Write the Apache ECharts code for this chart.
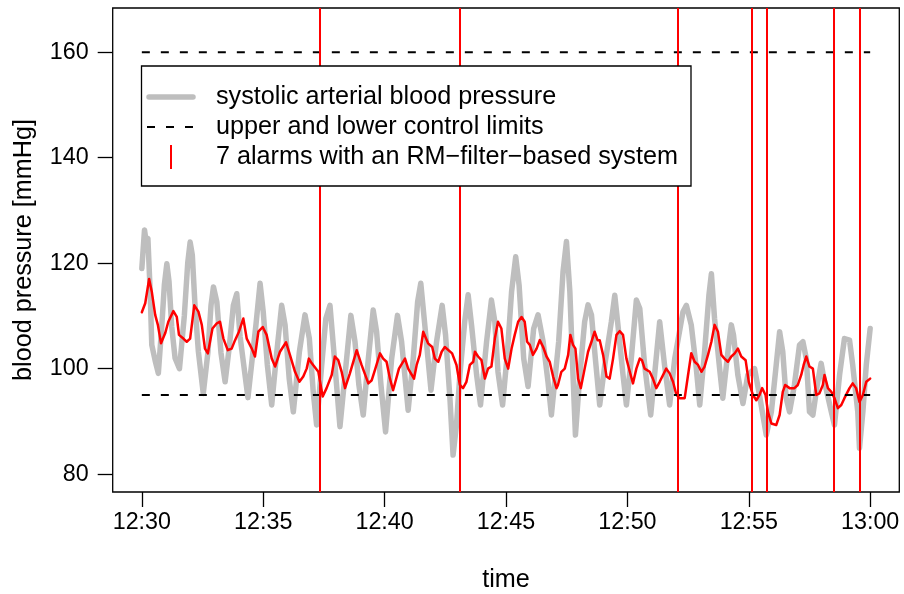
<!DOCTYPE html>
<html>
<head>
<meta charset="utf-8">
<script src="https://cdn.jsdelivr.net/npm/echarts@6/dist/echarts.min.js"></script>
<style>
  html, body { margin: 0; padding: 0; background: #fff; }
  #chart { width: 904px; height: 594px; }
</style>
</head>
<body>
<div id="chart"></div>
<script>
// Time axis: minutes after 12:30
const timeTicks = [0, 5, 10, 15, 20, 25, 30];
const timeLabels = ['12:30', '12:35', '12:40', '12:45', '12:50', '12:55', '13:00'];
const pressureTicks = [80, 100, 120, 140, 160];

// Systolic arterial blood pressure (mmHg)
const systolicMin = [0.00,0.11,0.18,0.25,0.34,0.41,0.55,0.68,0.82,0.93,
  1.03,1.12,1.23,1.37,1.55,1.75,1.89,1.99,2.08,2.19,
  2.33,2.53,2.72,2.85,2.95,3.09,3.26,3.43,3.60,3.77,
  3.91,4.05,4.37,4.70,4.87,5.00,5.17,5.35,5.56,5.76,
  5.90,6.07,6.24,6.49,6.72,6.90,7.06,7.20,7.41,7.58,
  7.75,7.91,8.16,8.41,8.61,8.78,8.94,9.12,9.33,9.53,
  9.67,9.85,10.04,10.29,10.53,10.70,10.97,11.18,11.36,11.49,
  11.63,11.91,12.14,12.37,12.51,12.69,12.82,12.96,13.10,13.30,
  13.44,13.58,13.79,13.95,14.20,14.40,14.54,14.67,14.86,15.05,
  15.23,15.40,15.54,15.73,15.91,16.14,16.32,16.53,16.73,16.87,
  17.17,17.35,17.49,17.63,17.76,17.86,18.04,18.24,18.38,18.52,
  18.68,18.86,19.07,19.34,19.48,19.61,19.82,19.96,20.16,20.37,
  20.51,20.71,20.96,21.12,21.33,21.53,21.74,21.95,22.29,22.43,
  22.63,22.84,22.98,23.18,23.36,23.46,23.59,23.80,23.93,24.14,
  24.28,24.37,24.55,24.76,24.96,25.24,25.44,25.72,25.93,26.13,
  26.27,26.40,26.54,26.68,26.88,27.09,27.23,27.37,27.50,27.64,
  27.82,27.98,28.12,28.40,28.53,28.74,28.94,29.15,29.28,29.49,
  29.56,29.70,29.84,30.00];
const systolicVal = [119.0,126.3,124.0,124.7,115.0,104.5,101.5,99.1,108.0,116.0,
  119.9,116.5,108.0,102.0,100.0,110.0,120.0,124.0,121.5,112.0,
  103.2,95.3,103.0,112.0,115.5,112.6,103.0,97.5,104.0,112.0,
  114.2,106.0,94.5,108.3,116.2,110.8,100.7,93.1,103.2,112.0,
  108.3,98.1,91.8,103.2,110.2,105.7,95.6,89.3,100.7,109.5,
  112.0,103.2,89.0,100.7,110.1,105.1,96.9,91.2,101.9,111.1,
  107.0,96.9,88.0,101.9,110.1,105.1,92.1,101.9,112.7,116.2,
  109.5,95.9,105.1,112.0,106.4,94.4,83.6,89.3,98.8,108.9,
  114.0,108.3,98.8,93.1,105.1,113.0,108.9,99.4,93.1,102.6,
  114.6,121.2,115.8,101.9,96.6,107.6,110.2,105.1,97.5,91.2,
  105.1,118.4,124.1,114.6,98.8,87.4,98.8,108.9,112.1,110.2,
  101.9,93.1,100.7,108.9,113.9,108.3,98.8,93.1,101.9,113.0,
  111.4,100.7,91.2,98.8,108.9,100.7,93.1,101.9,110.8,112.0,
  108.3,100.0,93.1,103.2,114.0,118.0,109.5,100.0,94.4,103.2,
  108.3,106.4,98.8,93.4,98.8,100.0,95.0,87.4,91.8,100.7,
  107.0,103.2,94.4,91.8,96.9,104.5,105.1,101.9,91.8,91.2,
  96.9,101.0,97.5,91.8,89.3,98.8,105.7,105.4,100.7,91.8,
  84.9,91.8,100.7,107.6];

// RM-filter output (mmHg)
const filterMin = [0.00,0.14,0.30,0.41,0.55,0.66,0.79,0.96,1.09,1.30,
  1.44,1.53,1.71,1.85,1.99,2.16,2.33,2.47,2.60,2.72,
  2.91,3.09,3.22,3.36,3.54,3.70,3.84,4.00,4.18,4.32,
  4.53,4.66,4.80,4.98,5.14,5.35,5.49,5.69,5.94,6.10,
  6.31,6.49,6.65,6.79,6.88,7.00,7.27,7.45,7.61,7.82,
  7.95,8.09,8.23,8.37,8.57,8.85,9.05,9.33,9.47,9.60,
  9.81,9.94,10.08,10.22,10.35,10.59,10.84,10.97,11.21,11.32,
  11.45,11.59,11.66,11.79,11.96,12.07,12.21,12.35,12.48,12.78,
  12.96,13.10,13.23,13.37,13.51,13.65,13.72,13.85,13.99,14.13,
  14.26,14.40,14.54,14.67,14.81,14.95,15.09,15.23,15.36,15.50,
  15.64,15.77,15.87,15.98,16.11,16.26,16.39,16.53,16.67,16.80,
  16.94,17.08,17.14,17.28,17.42,17.56,17.65,17.76,17.86,17.97,
  18.08,18.24,18.38,18.52,18.65,18.77,18.86,19.00,19.14,19.27,
  19.41,19.55,19.68,19.82,19.96,20.10,20.23,20.37,20.51,20.60,
  20.71,20.92,21.05,21.19,21.33,21.60,21.74,21.88,22.02,22.15,
  22.36,22.49,22.63,22.77,22.91,23.05,23.18,23.32,23.46,23.59,
  23.73,23.87,24.00,24.14,24.28,24.42,24.55,24.69,24.87,25.00,
  25.17,25.31,25.44,25.55,25.69,25.79,25.93,26.13,26.27,26.40,
  26.50,26.68,26.88,27.02,27.16,27.26,27.37,27.50,27.64,27.78,
  27.91,28.05,28.12,28.26,28.40,28.53,28.67,28.81,28.94,29.15,
  29.28,29.42,29.56,29.70,29.84,30.00];
const filterVal = [110.7,112.4,117.0,114.6,110.2,108.3,104.8,106.7,108.9,110.9,
  109.8,106.4,105.7,105.1,105.7,112.0,110.8,108.3,103.8,102.9,
  107.6,108.6,108.9,105.7,103.5,103.8,105.4,107.0,109.5,105.7,
  103.8,102.3,107.0,107.9,106.4,101.9,100.4,103.2,105.0,102.6,
  99.4,97.5,98.5,100.0,101.9,101.0,99.4,94.7,96.3,98.8,
  102.3,101.6,99.4,96.3,99.1,103.5,100.7,97.2,97.8,99.7,
  102.9,101.9,101.3,98.1,95.9,100.0,101.9,100.0,98.1,100.7,
  102.6,107.0,107.3,104.8,104.1,101.9,101.3,103.2,104.1,102.9,
  100.7,96.9,96.3,97.5,100.7,101.3,103.2,102.3,101.6,98.1,
  100.0,100.4,105.7,108.9,107.6,101.9,100.0,103.8,106.4,108.9,
  109.8,108.9,105.1,104.5,102.6,103.8,105.4,104.1,102.3,101.3,
  98.5,96.3,96.9,99.4,100.0,102.6,106.4,104.5,103.8,98.1,
  96.3,100.0,103.2,105.1,107.0,105.4,105.4,102.6,98.5,98.1,
  101.9,106.4,107.1,106.4,101.9,99.4,97.2,100.0,101.9,101.6,
  100.0,99.4,98.1,96.3,97.5,100.0,99.1,97.5,95.0,94.4,
  94.4,98.5,102.9,101.3,100.7,99.4,100.4,102.6,105.1,108.3,
  107.0,102.6,101.9,101.3,102.3,102.9,103.8,102.3,101.6,97.5,
  95.0,94.0,95.0,96.3,95.0,91.8,89.6,89.3,91.2,95.6,
  96.9,96.3,96.3,96.9,98.8,100.7,102.3,100.4,100.0,95.0,
  95.3,96.9,98.8,96.3,95.6,94.4,92.5,93.1,94.4,96.3,
  97.2,96.3,93.7,95.0,97.5,98.1];

// Control limits (mmHg) and alarm times (minutes after 12:30)
const limitVal = [95, 160];
const limitSpan = [0, 30];
const alarmMin = [7.34, 13.11, 22.07, 25.14, 25.72, 28.48, 29.56];

const FONT = '"Liberation Sans", Arial, Helvetica, sans-serif';
const TICK_FS = 23.3;
const TEXT_FS = 25.2;

const zip = (xs, ys) => xs.map((x, i) => [x, ys[i]]);

const limitData = [];
limitVal.forEach((v, i) => {
  if (i > 0) limitData.push([null, null]);
  limitSpan.forEach(t => limitData.push([t, v]));
});

const chart = echarts.init(document.getElementById('chart'), null, { renderer: 'canvas' });

const legendRows = [97, 127, 157];
const legendText = [
  'systolic arterial blood pressure',
  'upper and lower control limits',
  '7 alarms with an RM\u2212filter\u2212based system'
];

chart.setOption({
  animation: false,
  backgroundColor: '#fff',
  grid: {
    left: 112.7, right: 4.7, top: 8, bottom: 102,
    show: true, borderColor: '#000', borderWidth: 1.3, backgroundColor: 'transparent'
  },
  xAxis: {
    type: 'value',
    min: -1.2, max: 31.2,
    axisLine: { show: false, onZero: false },
    splitLine: { show: false },
    axisTick: {
      show: true, length: 15, customValues: timeTicks,
      lineStyle: { color: '#000', width: 1.3 }
    },
    axisLabel: {
      customValues: timeTicks,
      formatter: v => timeLabels[timeTicks.indexOf(v)],
      color: '#000', fontFamily: FONT, fontSize: TICK_FS, margin: 19
    }
  },
  yAxis: {
    type: 'value',
    min: 76.6, max: 168.4,
    axisLine: { show: false, onZero: false },
    splitLine: { show: false },
    axisTick: {
      show: true, length: 15, customValues: pressureTicks,
      lineStyle: { color: '#000', width: 1.3 }
    },
    axisLabel: {
      customValues: pressureTicks,
      color: '#000', fontFamily: FONT, fontSize: TICK_FS, margin: 24
    }
  },
  series: [
    {
      name: 'systolic', type: 'line', z: 2,
      data: zip(systolicMin, systolicVal),
      showSymbol: false, silent: true,
      lineStyle: { color: '#BEBEBE', width: 5.5, cap: 'round', join: 'round' }
    },
    {
      name: 'filter', type: 'line', z: 3,
      data: zip(filterMin, filterVal),
      showSymbol: false, silent: true,
      lineStyle: { color: '#FF0000', width: 2.5, cap: 'round', join: 'round' }
    },
    {
      name: 'limits', type: 'line', z: 4,
      data: limitData, connectNulls: false,
      showSymbol: false, silent: true,
      lineStyle: { color: '#000', width: 2, type: [8, 11] }
    },
    {
      name: 'alarms', type: 'line', z: 5, data: [],
      markLine: {
        silent: true, symbol: ['none', 'none'], animation: false,
        label: { show: false },
        lineStyle: { color: '#FF0000', width: 2, type: 'solid' },
        data: alarmMin.map(t => ({ xAxis: t }))
      }
    }
  ],
  graphic: [
    {
      type: 'text', z: 100,
      style: { text: 'time', x: 506, y: 580, align: 'center', verticalAlign: 'middle',
               font: TEXT_FS + 'px ' + FONT, fill: '#000' }
    },
    {
      type: 'text', z: 100, x: 24, y: 250, rotation: Math.PI / 2,
      style: { text: 'blood pressure [mmHg]', x: 0, y: 0, align: 'center', verticalAlign: 'middle',
               font: TEXT_FS + 'px ' + FONT, fill: '#000' }
    },
    {
      type: 'group', z: 100,
      children: [
        { type: 'rect', z: 100, shape: { x: 141.5, y: 66, width: 549.5, height: 120 },
          style: { fill: '#fff', stroke: '#000', lineWidth: 1.3 } },
        { type: 'line', z: 101, shape: { x1: 149, y1: legendRows[0], x2: 193, y2: legendRows[0] },
          style: { stroke: '#BEBEBE', lineWidth: 5.5, lineCap: 'round' } },
        { type: 'line', z: 101, shape: { x1: 147, y1: legendRows[1], x2: 193, y2: legendRows[1] },
          style: { stroke: '#000', lineWidth: 2, lineDash: [8, 11] } },
        { type: 'line', z: 101, shape: { x1: 171, y1: legendRows[2] - 12, x2: 171, y2: legendRows[2] + 12 },
          style: { stroke: '#FF0000', lineWidth: 2 } },
      ].concat(legendText.map((t, i) => ({
        type: 'text', z: 101,
        style: { text: t, x: 216, y: legendRows[i], verticalAlign: 'middle',
                 font: TEXT_FS + 'px ' + FONT, fill: '#000' }
      })))
    }
  ]
});
</script>
</body>
</html>
